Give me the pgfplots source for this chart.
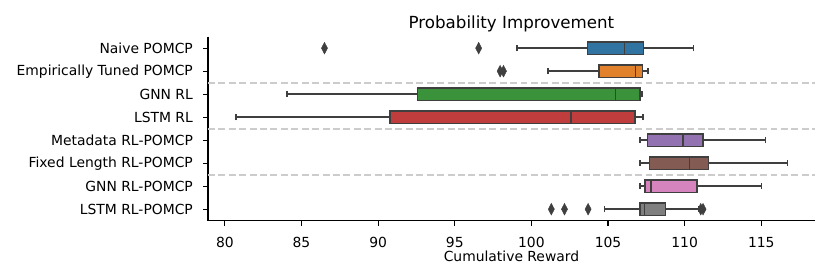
\documentclass[border=0pt]{standalone}
\usepackage{pgfplots}
\pgfplotsset{compat=1.18}
\usepgfplotslibrary{statistics}
\usepackage{fontspec}
\setmainfont{DejaVu Sans}
\definecolor{c1}{HTML}{3274A1}
\definecolor{c2}{HTML}{E1812C}
\definecolor{c3}{HTML}{3A923A}
\definecolor{c4}{HTML}{C03D3E}
\definecolor{c5}{HTML}{9372B2}
\definecolor{c6}{HTML}{845B53}
\definecolor{c7}{HTML}{D684BD}
\definecolor{c8}{HTML}{7F7F7F}
\definecolor{edge}{HTML}{3F3F3F}
\definecolor{sep}{HTML}{CCCCCC}
\pgfplotsset{
  bx/.style={boxplot/draw direction=x, draw=edge, line width=1.1bp,
    boxplot/box extend=0.54, boxplot/whisker extend=0.27},
}
\begin{document}
\begin{tikzpicture}
\useasboundingbox (-149.76bp,-42.7bp) rectangle (447.84bp,158.9bp);
\begin{axis}[
  at={(0,0)}, anchor=south west,
  scale only axis, width=437bp, height=132.5bp,
  xmin=78.9, xmax=118.5, ymin=-0.5, ymax=7.5, y dir=reverse,
  axis x line*=bottom, axis y line*=left,
  axis line style={line width=0.8bp, black},
  tick align=outside, major tick length=3.5bp,
  every tick/.style={black, line width=0.8bp},
  xtick={80,85,...,115}, ytick={0,...,7},
  yticklabels={Naive POMCP, Empirically Tuned POMCP, GNN RL, LSTM RL, Metadata RL-POMCP, Fixed Length RL-POMCP, GNN RL-POMCP, LSTM RL-POMCP},
  /pgf/number format/assume math mode=true,
  ticklabel style={font=\fontsize{10bp}{12bp}\selectfont},
  xticklabel style={anchor=north, inner sep=0pt, yshift=-8.1bp},
  yticklabel style={anchor=east, inner sep=0pt, xshift=-7.2bp},
  xlabel={Cumulative Reward},
  xlabel style={at={(axis description cs:0.5,0)}, anchor=center, inner sep=0pt, yshift=-25.7bp, font=\fontsize{10bp}{12bp}\selectfont},
  title={Probability Improvement},
  title style={at={(axis description cs:0.5,1)}, anchor=base, inner sep=0pt, yshift=0bp, font=\fontsize{12bp}{14bp}\selectfont},
  clip=false,
]
% separators
\addplot[sep, line width=1.5bp, dash pattern=on 5bp off 2.5bp] coordinates {(78.9,1.5) (118.5,1.5)};
\addplot[sep, line width=1.5bp, dash pattern=on 5bp off 2.5bp] coordinates {(78.9,3.5) (118.5,3.5)};
\addplot[sep, line width=1.5bp, dash pattern=on 5bp off 2.5bp] coordinates {(78.9,5.5) (118.5,5.5)};
% boxes
\addplot[bx, fill=c1, boxplot prepared={draw position=0, lower whisker=99.05, lower quartile=103.67, median=106.06, upper quartile=107.3, upper whisker=110.57}] coordinates {};
\addplot[bx, fill=c2, boxplot prepared={draw position=1, lower whisker=101.1, lower quartile=104.4, median=106.8, upper quartile=107.25, upper whisker=107.6}] coordinates {};
\addplot[bx, fill=c3, boxplot prepared={draw position=2, lower whisker=84.05, lower quartile=92.56, median=105.5, upper quartile=107.1, upper whisker=107.2}] coordinates {};
\addplot[bx, fill=c4, boxplot prepared={draw position=3, lower whisker=80.72, lower quartile=90.78, median=102.6, upper quartile=106.76, upper whisker=107.28}] coordinates {};
\addplot[bx, fill=c5, boxplot prepared={draw position=4, lower whisker=107.1, lower quartile=107.56, median=109.9, upper quartile=111.18, upper whisker=115.27}] coordinates {};
\addplot[bx, fill=c6, boxplot prepared={draw position=5, lower whisker=107.1, lower quartile=107.7, median=110.3, upper quartile=111.55, upper whisker=116.7}] coordinates {};
\addplot[bx, fill=c7, boxplot prepared={draw position=6, lower whisker=107.1, lower quartile=107.41, median=107.8, upper quartile=110.8, upper whisker=115.0}] coordinates {};
\addplot[bx, fill=c8, boxplot prepared={draw position=7, lower whisker=104.78, lower quartile=107.1, median=107.39, upper quartile=108.74, upper whisker=110.95}] coordinates {};
% outliers
\addplot[only marks, mark=diamond*, mark size=4.2bp, mark options={fill=edge, draw=edge, line width=0.3bp, xscale=0.7}]
  coordinates {(86.5,0) (96.56,0) (97.96,1) (98.18,1) (101.3,7) (102.16,7) (103.7,7) (111.05,7) (111.2,7)};
\end{axis}
\end{tikzpicture}
\end{document}
